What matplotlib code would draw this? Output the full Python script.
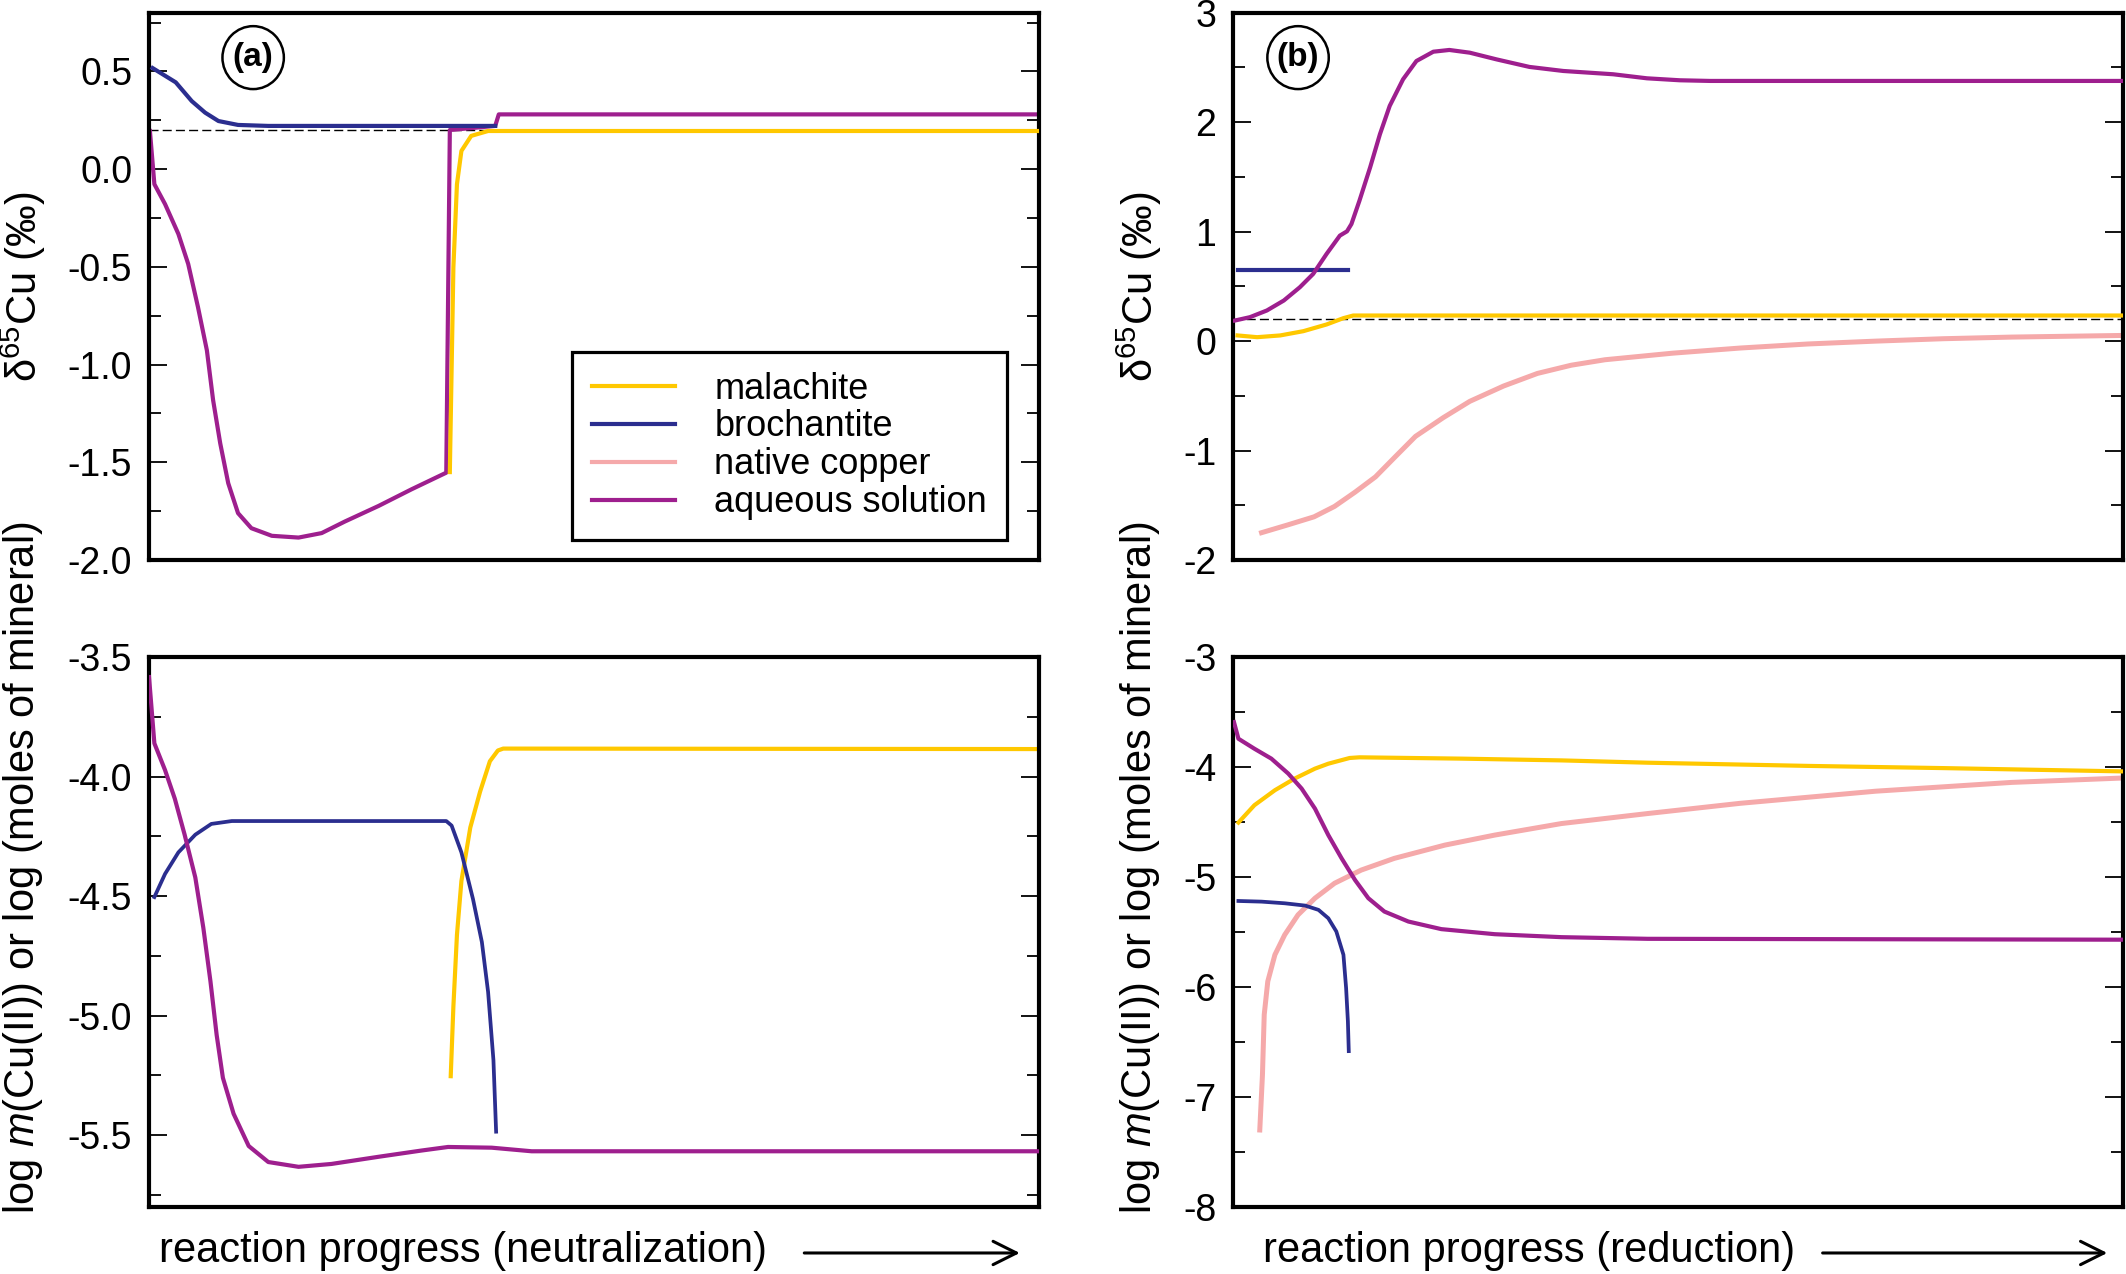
import matplotlib
matplotlib.use("Agg")
import matplotlib.pyplot as plt
from matplotlib.lines import Line2D
from matplotlib.patches import Ellipse, FancyArrowPatch
from matplotlib.ticker import MultipleLocator, FormatStrFormatter

plt.rcParams['font.family'] = ['Liberation Sans', 'DejaVu Sans']
plt.rcParams['mathtext.fontset'] = 'custom'
plt.rcParams['mathtext.rm'] = 'Liberation Sans'
plt.rcParams['mathtext.it'] = 'Liberation Sans:italic'
plt.rcParams['mathtext.default'] = 'regular'
plt.rcParams['axes.unicode_minus'] = False

# colours of the four phases
C_MAL = '#FFC800'
C_BRO = '#2B2E8F'
C_CU = '#F5A9AA'
C_AQ = '#9E1F8E'

# ---- panel (a): neutralization, delta65Cu ----
a_aq_d_x = [0.001, 0.006, 0.018, 0.033, 0.044, 0.055, 0.065, 0.072, 0.080, 0.089,
            0.100, 0.115, 0.138, 0.168, 0.194, 0.220, 0.258, 0.295, 0.334, 0.338,
            0.389, 0.393, 1.000]
a_aq_d_y = [0.195, -0.077, -0.179, -0.332, -0.485, -0.706, -0.927, -1.182, -1.403, -1.607,
            -1.76, -1.837, -1.876, -1.885, -1.862, -1.803, -1.723, -1.638, -1.553, 0.20,
            0.221, 0.28, 0.28]
a_bro_d_x = [0.004, 0.030, 0.048, 0.063, 0.078, 0.100, 0.134, 0.389]
a_bro_d_y = [0.517, 0.444, 0.348, 0.289, 0.246, 0.226, 0.221, 0.221]
a_mal_d_x = [0.338, 0.342, 0.346, 0.351, 0.362, 0.381, 1.000]
a_mal_d_y = [-1.55, -0.502, -0.077, 0.093, 0.17, 0.195, 0.195]

# ---- panel (a): neutralization, log m / log moles ----
a_aq_m_x = [0.000, 0.006, 0.018, 0.029, 0.040, 0.052, 0.061, 0.069, 0.076, 0.083,
            0.095, 0.112, 0.134, 0.168, 0.205, 0.258, 0.306, 0.336, 0.385, 0.430,
            1.000]
a_aq_m_y = [-3.584, -3.861, -3.973, -4.093, -4.243, -4.422, -4.632, -4.856, -5.081, -5.26,
            -5.41, -5.545, -5.612, -5.632, -5.62, -5.59, -5.564, -5.549, -5.552, -5.567,
            -5.567]
a_bro_m_x = [0.006, 0.018, 0.033, 0.052, 0.070, 0.093, 0.334, 0.340, 0.351, 0.364,
             0.374, 0.381, 0.387, 0.390]
a_bro_m_y = [-4.504, -4.407, -4.317, -4.243, -4.198, -4.186, -4.186, -4.205, -4.317, -4.512,
             -4.692, -4.901, -5.186, -5.485]
a_mal_m_x = [0.339, 0.342, 0.346, 0.351, 0.361, 0.372, 0.383, 0.392, 0.398, 1.000]
a_mal_m_y = [-5.253, -4.961, -4.662, -4.437, -4.213, -4.063, -3.936, -3.891, -3.883, -3.885]

# ---- panel (b): reduction, delta65Cu ----
b_aq_d_x = [0.002, 0.019, 0.038, 0.057, 0.075, 0.090, 0.105, 0.120, 0.128, 0.133,
            0.142, 0.154, 0.165, 0.176, 0.191, 0.206, 0.225, 0.243, 0.266, 0.296,
            0.333, 0.371, 0.427, 0.465, 0.502, 0.536, 1.000]
b_aq_d_y = [0.188, 0.219, 0.28, 0.371, 0.492, 0.614, 0.796, 0.964, 1.003, 1.07,
            1.283, 1.587, 1.89, 2.149, 2.392, 2.559, 2.644, 2.66, 2.635, 2.574,
            2.505, 2.468, 2.438, 2.401, 2.383, 2.377, 2.377]
b_bro_d_x = [0.005, 0.129]
b_bro_d_y = [0.653, 0.653]
b_mal_d_x = [0.005, 0.027, 0.053, 0.079, 0.105, 0.124, 0.135, 1.000]
b_mal_d_y = [0.052, 0.036, 0.052, 0.091, 0.152, 0.21, 0.234, 0.234]
b_cu_d_x = [0.032, 0.061, 0.091, 0.114, 0.137, 0.160, 0.183, 0.205, 0.236, 0.266,
            0.304, 0.342, 0.380, 0.418, 0.494, 0.570, 0.646, 0.722, 0.798, 0.875, 1.000]
b_cu_d_y = [-1.75, -1.68, -1.605, -1.51, -1.38, -1.24, -1.05, -0.87, -0.70, -0.55,
            -0.41, -0.295, -0.22, -0.17, -0.11, -0.063, -0.026, 0.0, 0.022, 0.037, 0.052]

# ---- panel (b): reduction, log m / log moles ----
b_aq_m_x = [0.001, 0.006, 0.024, 0.043, 0.062, 0.077, 0.092, 0.107, 0.122, 0.137,
            0.152, 0.170, 0.197, 0.234, 0.294, 0.369, 0.466, 1.000]
b_aq_m_y = [-3.592, -3.743, -3.834, -3.924, -4.06, -4.196, -4.378, -4.619, -4.831, -5.027,
            -5.193, -5.314, -5.405, -5.474, -5.52, -5.547, -5.562, -5.57]
b_mal_m_x = [0.006, 0.024, 0.047, 0.069, 0.092, 0.107, 0.131, 0.142, 0.257, 0.369,
             0.466, 0.646, 0.798, 1.000]
b_mal_m_y = [-4.505, -4.347, -4.211, -4.106, -4.015, -3.97, -3.918, -3.912, -3.924, -3.94,
             -3.961, -3.99, -4.01, -4.04]
b_bro_m_x = [0.006, 0.032, 0.058, 0.081, 0.096, 0.107, 0.116, 0.124, 0.127, 0.129, 0.130]
b_bro_m_y = [-5.218, -5.224, -5.239, -5.26, -5.299, -5.375, -5.495, -5.707, -6.009, -6.311,
             -6.583]
b_cu_m_x = [0.030, 0.033, 0.035, 0.039, 0.047, 0.058, 0.073, 0.092, 0.114, 0.144,
            0.181, 0.238, 0.294, 0.369, 0.466, 0.570, 0.722, 0.875, 1.000]
b_cu_m_y = [-7.30, -6.80, -6.251, -5.949, -5.707, -5.526, -5.344, -5.193, -5.057, -4.937,
            -4.831, -4.71, -4.619, -4.514, -4.423, -4.33, -4.22, -4.14, -4.10]

initial_delta = 0.2
legend_labels = ['malachite', 'brochantite', 'native copper', 'aqueous solution']

LW = 3.0
DASH = dict(color='black', lw=1.0, ls=(0, (6.5, 3)), zorder=1)

fig = plt.figure(figsize=(21.26, 12.74), dpi=100)
ax_at = fig.add_axes([0.0701, 0.5604, 0.4186, 0.4296])
ax_ab = fig.add_axes([0.0701, 0.0526, 0.4186, 0.4317])
ax_bt = fig.add_axes([0.5800, 0.5604, 0.4186, 0.4296])
ax_bb = fig.add_axes([0.5800, 0.0526, 0.4186, 0.4317])


def style(ax, ylim, major, fmt):
    ax.set_xlim(0, 1)
    ax.set_ylim(*ylim)
    ax.set_xticks([])
    ax.yaxis.set_major_locator(MultipleLocator(major))
    ax.yaxis.set_minor_locator(MultipleLocator(major / 2))
    ax.yaxis.set_major_formatter(FormatStrFormatter(fmt))
    ax.tick_params(axis='y', which='both', direction='in', left=True, right=True,
                   width=1.3, labelsize=27, pad=12)
    ax.tick_params(axis='y', which='major', length=13)
    ax.tick_params(axis='y', which='minor', length=8.5)
    for s in ax.spines.values():
        s.set_linewidth(3.0)


# (a) top
ax_at.axhline(initial_delta, **DASH)
l_mal, = ax_at.plot(a_mal_d_x, a_mal_d_y, color=C_MAL, lw=LW, zorder=3)
l_aq, = ax_at.plot(a_aq_d_x, a_aq_d_y, color=C_AQ, lw=LW, zorder=2)
l_bro, = ax_at.plot(a_bro_d_x, a_bro_d_y, color=C_BRO, lw=LW, zorder=4)
l_cu = Line2D([], [], color=C_CU, lw=LW)
style(ax_at, (-2.0, 0.8), 0.5, '%.1f')
leg = ax_at.legend([l_mal, l_bro, l_cu, l_aq], legend_labels, loc='lower right',
                   bbox_to_anchor=(0.964, 0.0365), borderaxespad=0, fontsize=26,
                   frameon=True, fancybox=False, edgecolor='black', framealpha=1,
                   handlelength=2.3, handletextpad=1.1, borderpad=0.55,
                   labelspacing=0.08)
leg.get_frame().set_linewidth(2.3)

# (a) bottom
ax_ab.plot(a_mal_m_x, a_mal_m_y, color=C_MAL, lw=LW, zorder=2)
ax_ab.plot(a_bro_m_x, a_bro_m_y, color=C_BRO, lw=LW - 0.3, zorder=3)
ax_ab.plot(a_aq_m_x, a_aq_m_y, color=C_AQ, lw=LW, zorder=4)
style(ax_ab, (-5.8, -3.5), 0.5, '%.1f')

# (b) top
ax_bt.axhline(initial_delta, **DASH)
ax_bt.plot(b_cu_d_x, b_cu_d_y, color=C_CU, lw=LW + 0.6, zorder=2)
ax_bt.plot(b_mal_d_x, b_mal_d_y, color=C_MAL, lw=LW, zorder=3)
ax_bt.plot(b_bro_d_x, b_bro_d_y, color=C_BRO, lw=LW, zorder=3)
ax_bt.plot(b_aq_d_x, b_aq_d_y, color=C_AQ, lw=LW, zorder=4)
style(ax_bt, (-2, 3), 1, '%d')

# (b) bottom
ax_bb.plot(b_cu_m_x, b_cu_m_y, color=C_CU, lw=LW + 0.6, zorder=2)
ax_bb.plot(b_mal_m_x, b_mal_m_y, color=C_MAL, lw=LW, zorder=3)
ax_bb.plot(b_bro_m_x, b_bro_m_y, color=C_BRO, lw=LW - 0.3, zorder=3)
ax_bb.plot(b_aq_m_x, b_aq_m_y, color=C_AQ, lw=LW, zorder=4)
style(ax_bb, (-8, -3), 1, '%d')

# panel tags in circles
for ax, tag, cx in [(ax_at, '(a)', 0.117), (ax_bt, '(b)', 0.073)]:
    ax.add_patch(Ellipse((cx, 0.918), 0.069, 0.115, transform=ax.transAxes,
                         fill=False, edgecolor='black', lw=1.8, zorder=5))
    ax.text(cx, 0.918, tag, transform=ax.transAxes, ha='center', va='center',
            fontsize=24, fontweight='bold', zorder=6)

# axis titles
for x in (0.011, 0.536):
    fig.text(x, 0.775, 'δ$^{65}$Cu (‰)', rotation=90, ha='center', va='center',
             fontsize=30)
    fig.text(x, 0.319, r'log $\mathit{m}$(Cu(II)) or log (moles of mineral)',
             rotation=90, ha='center', va='center', fontsize=30)

fig.text(0.0748, 0.018, 'reaction progress (neutralization)', ha='left', va='center',
         fontsize=30)
fig.text(0.594, 0.018, 'reaction progress (reduction)', ha='left', va='center',
         fontsize=30)
for x0, x1 in [(0.377, 0.481), (0.856, 0.9925)]:
    fig.add_artist(FancyArrowPatch((x0, 0.0165), (x1, 0.0165), transform=fig.transFigure,
                                   arrowstyle='->', mutation_scale=42, lw=2.2,
                                   color='black'))

fig.savefig('out.png', dpi=100)
